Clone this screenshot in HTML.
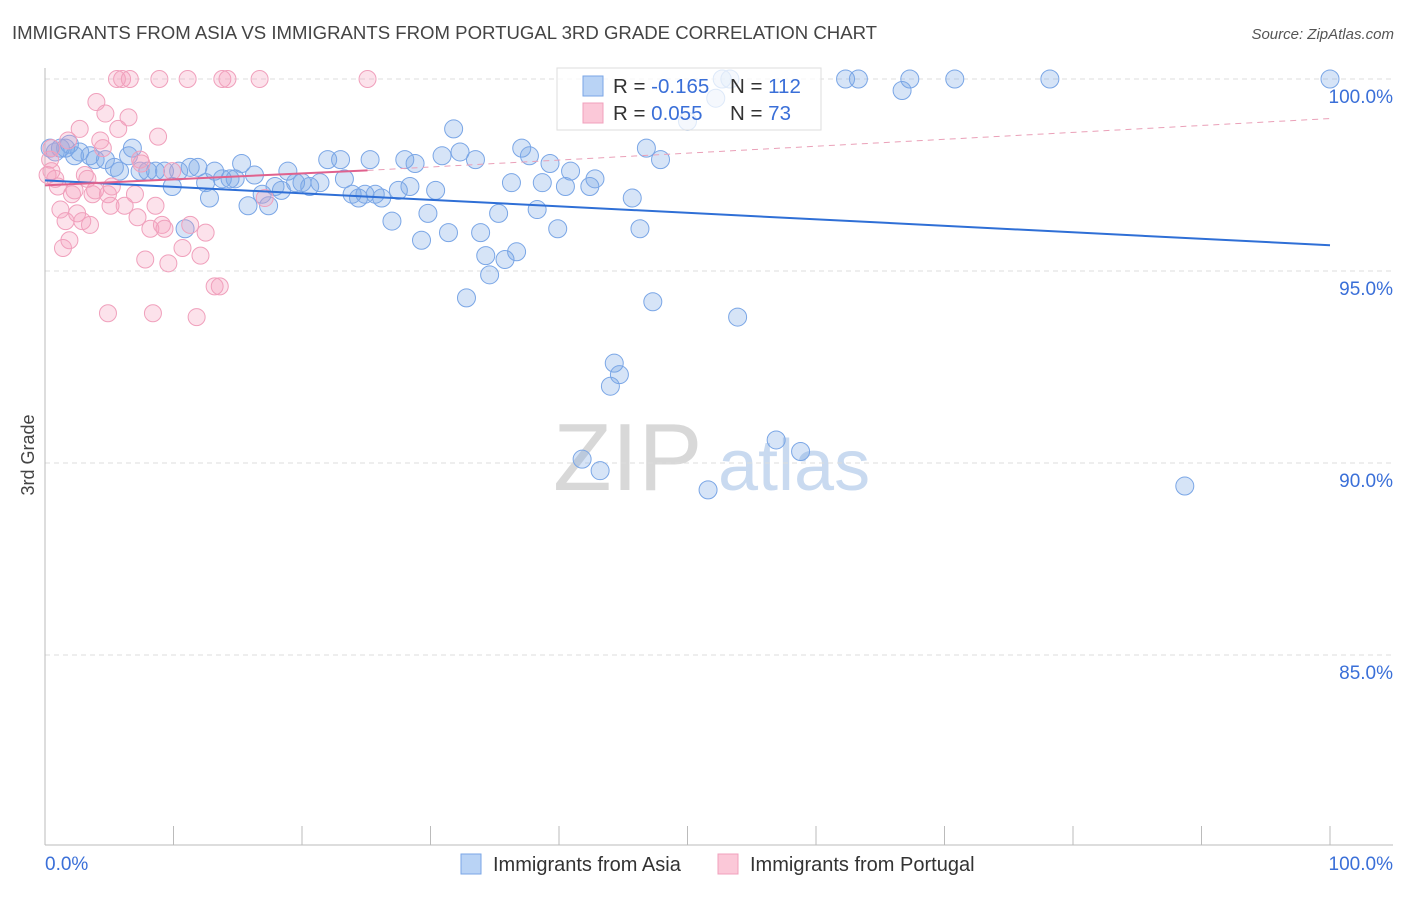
<!DOCTYPE html>
<html><head><meta charset="utf-8"><style>
body{margin:0;background:#fff;font-family:"Liberation Sans",sans-serif;}
svg text{font-family:"Liberation Sans",sans-serif;}
</style></head><body>
<svg id="chart" width="1406" height="892" xmlns="http://www.w3.org/2000/svg">
<text x="12" y="39" font-size="18.6" fill="#444">IMMIGRANTS FROM ASIA VS IMMIGRANTS FROM PORTUGAL 3RD GRADE CORRELATION CHART</text>
<text x="1394" y="39" font-size="15" fill="#555" text-anchor="end" font-style="italic">Source: ZipAtlas.com</text>
<g>
<text x="553" y="490" font-size="96" font-family="Liberation Serif,serif" fill="#d8d8d8">ZIP</text>
<text x="718" y="490" font-size="72" fill="#c9daf0">atlas</text>
</g>
<g id="grid"></g>
<g id="axes"></g>
<g id="points"></g>
<g id="trends"></g>
<text transform="translate(34,455) rotate(-90)" font-size="18" fill="#444" text-anchor="middle">3rd Grade</text>
<text x="45" y="870" font-size="19" fill="#3a6fd8">0.0%</text>
<text x="1393" y="870" font-size="19" fill="#3a6fd8" text-anchor="end">100.0%</text>
<g>
<rect x="557" y="68" width="264" height="62" fill="rgba(255,255,255,0.75)" stroke="#ddd"/>
<rect x="583" y="76" width="20" height="20" fill="#b9d3f5" stroke="#7aa6e6"/>
<rect x="583" y="103" width="20" height="20" fill="#fbc8d8" stroke="#f0a0bc"/>
<text x="613" y="93" font-size="20.5" fill="#333">R = <tspan fill="#3a6fd8">-0.165</tspan></text>
<text x="730" y="93" font-size="20.5" fill="#333">N = <tspan fill="#3a6fd8">112</tspan></text>
<text x="613" y="120" font-size="20.5" fill="#333">R = <tspan fill="#3a6fd8"> 0.055</tspan></text>
<text x="730" y="120" font-size="20.5" fill="#333">N = <tspan fill="#3a6fd8"> 73</tspan></text>
</g>
<g>
<rect x="461" y="854" width="20" height="20" fill="#b9d3f5" stroke="#7aa6e6"/>
<text x="493" y="871" font-size="20" fill="#333">Immigrants from Asia</text>
</g>
<g>
<rect x="718" y="854" width="20" height="20" fill="#fbc8d8" stroke="#f0a0bc"/>
<text x="750" y="871" font-size="20" fill="#333">Immigrants from Portugal</text>
</g>
</svg>
<script>
const yTicks=[100,95,90,85];
const yTickLabels=["100.0%","95.0%","90.0%","85.0%"];
const xTicks=[0,10,20,30,40,50,60,70,80,90,100];
const asiaX=[0.4,0.8,1.2,1.6,1.9,2.3,2.7,3.5,3.9,4.7,5.4,5.8,6.5,6.8,7.4,8.0,8.6,9.3,9.9,10.4,10.9,11.3,11.9,12.5,12.8,13.2,13.8,14.4,14.8,15.3,15.8,16.3,16.9,17.4,17.9,18.4,18.9,19.5,20.0,20.6,21.4,22.0,23.0,23.3,23.9,24.4,24.9,25.3,25.7,26.2,27.0,27.5,28.0,28.4,28.8,29.3,29.8,30.4,30.9,31.4,31.8,32.3,32.8,33.5,33.9,34.3,34.6,35.3,35.8,36.3,36.7,37.1,37.7,38.3,38.7,39.3,39.9,40.5,40.9,42.4,42.8,41.8,43.2,44.0,44.3,44.7,45.7,46.3,46.8,47.3,47.9,50.0,51.6,52.2,52.7,53.3,53.9,56.9,58.8,62.3,63.3,66.7,67.3,70.8,78.2,88.7,100];
const asiaY=[98.2,98.1,98.2,98.2,98.3,98.0,98.1,98.0,97.9,97.9,97.7,97.6,98.0,98.2,97.6,97.6,97.6,97.6,97.2,97.6,96.1,97.7,97.7,97.3,96.9,97.6,97.4,97.4,97.4,97.8,96.7,97.5,97.0,96.7,97.2,97.1,97.6,97.3,97.3,97.2,97.3,97.9,97.9,97.4,97.0,96.9,97.0,97.9,97.0,96.9,96.3,97.1,97.9,97.2,97.8,95.8,96.5,97.1,98.0,96.0,98.7,98.1,94.3,97.9,96.0,95.4,94.9,96.5,95.3,97.3,95.5,98.2,98.0,96.6,97.3,97.8,96.1,97.2,97.6,97.2,97.4,90.1,89.8,92.0,92.6,92.3,96.9,96.1,98.2,94.2,97.9,98.9,89.3,99.5,100,100,93.8,90.6,90.3,100,100,99.7,100,100,100,89.4,100];
const portX=[0.4,0.5,0.8,1.0,1.2,1.4,1.6,1.8,1.9,2.1,2.3,2.5,2.7,2.9,3.1,3.3,3.5,3.7,3.9,4.0,4.3,4.5,4.7,4.9,5.1,5.2,5.6,5.7,6.0,6.2,6.5,6.6,7.0,7.2,7.4,7.5,7.8,8.2,8.4,8.6,8.8,8.9,9.1,9.3,9.6,9.9,10.7,11.1,11.3,11.8,12.1,12.5,13.2,13.6,13.8,14.2,16.7,17.1,25.1,4.9,0.2,0.5];
const portY=[97.9,97.6,97.4,97.2,96.6,95.6,96.3,98.4,95.8,97.0,97.1,96.5,98.7,96.3,97.5,97.4,96.2,97.0,97.1,99.4,98.4,98.2,99.1,97.0,96.7,97.2,100,98.7,100,96.7,99.0,100,97.0,96.4,97.9,97.8,95.3,96.1,93.9,96.7,98.5,100,96.2,96.1,95.2,97.6,95.6,100,96.2,93.8,95.4,96.0,94.6,94.6,100,100,100,96.9,100,93.9,97.5,98.2];
const asiaTrend=[[0,97.36],[100,95.67]];
const portTrendSolid=[[0,97.23],[25.1,97.62]];
const portTrendDash=[[25.1,97.62],[100,98.97]];

const NS="http://www.w3.org/2000/svg";
const X0=45,X1=1330,YTOP=79,PXPER=38.4;
const sx=v=>X0+(X1-X0)*v/100;
const sy=v=>YTOP+(100-v)*PXPER;
function mk(tag,attrs,parent){const e=document.createElementNS(NS,tag);for(const k in attrs)e.setAttribute(k,attrs[k]);document.getElementById(parent).appendChild(e);return e;}
yTicks.forEach((t,i)=>{
 const l=mk('line',{x1:45,x2:1393,y1:sy(t),y2:sy(t),stroke:'#ddd','stroke-dasharray':'5,4'},'grid');
 
 
 const tx=mk('text',{x:1393,y:sy(t)+24,'font-size':19,fill:'#3a6fd8','text-anchor':'end'},'grid');
 tx.textContent=yTickLabels[i];
 
 
});
const ya=mk('line',{x1:45,x2:45,y1:68,y2:845,stroke:'#bbb'},'axes');


const xa=mk('line',{x1:45,x2:1393,y1:845,y2:845,stroke:'#bbb'},'axes');


xTicks.forEach(t=>{
 const l=mk('line',{x1:sx(t),x2:sx(t),y1:826,y2:845,stroke:'#bbb'},'axes');
 
 
});
asiaX.forEach((v,i)=>{
 const c=mk('circle',{cx:sx(v),cy:sy(asiaY[i]),r:9,fill:'rgba(120,165,230,0.3)',stroke:'#7aa6e6','stroke-width':1},'points');
 
 
});
portX.forEach((v,i)=>{
 const c=mk('circle',{cx:sx(v),cy:sy(portY[i]),r:8.5,fill:'rgba(245,160,190,0.3)',stroke:'#f0a0bc','stroke-width':1},'points');
 
 
});
const t1=mk('line',{x1:sx(asiaTrend[0][0]),y1:sy(asiaTrend[0][1]),x2:sx(asiaTrend[1][0]),y2:sy(asiaTrend[1][1]),stroke:'#2f6fd6','stroke-width':2},'trends');


const t2=mk('line',{x1:sx(portTrendSolid[0][0]),y1:sy(portTrendSolid[0][1]),x2:sx(portTrendSolid[1][0]),y2:sy(portTrendSolid[1][1]),stroke:'#e0628e','stroke-width':2},'trends');


const t3=mk('line',{x1:sx(portTrendDash[0][0]),y1:sy(portTrendDash[0][1]),x2:sx(portTrendDash[1][0]),y2:sy(portTrendDash[1][1]),stroke:'#eaa0b8','stroke-width':1,'stroke-dasharray':'6,5'},'trends');


</script>
</body></html>
